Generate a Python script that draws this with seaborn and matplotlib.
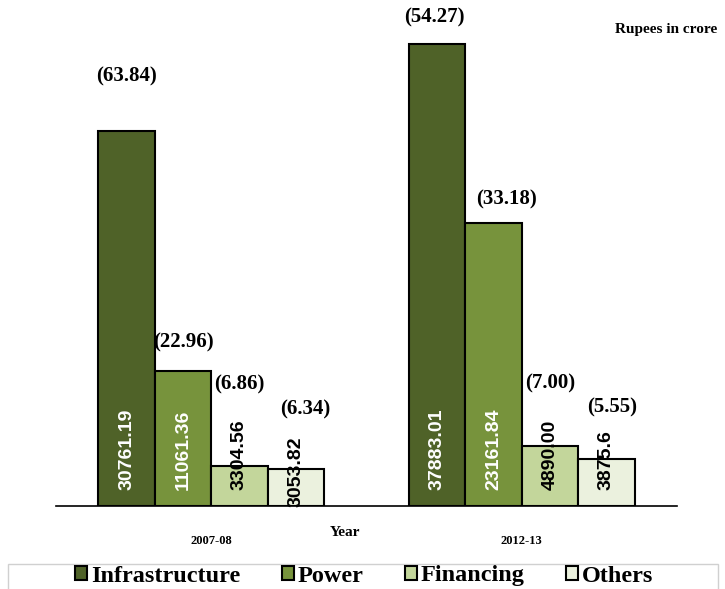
import pandas as pd
import seaborn as sns
import matplotlib.pyplot as plt
from matplotlib.patches import Rectangle

# Chart data
years = ['2007-08', '2012-13']
sectors = ['Infrastructure', 'Power', 'Financing', 'Others']
values_2007 = [30761.19, 11061.36, 3304.56, 3053.82]
values_2012 = [37883.01, 23161.84, 4890.00, 3875.6]
value_labels_2007 = ['30761.19', '11061.36', '3304.56', '3053.82']
value_labels_2012 = ['37883.01', '23161.84', '4890.00', '3875.6']
pct_2007 = ['(63.84)', '(22.96)', '(6.86)', '(6.34)']
pct_2012 = ['(54.27)', '(33.18)', '(7.00)', '(5.55)']

colors = ['#4F6228', '#77933C', '#C3D69B', '#EBF1DE']
value_text_colors = ['white', 'white', 'black', 'black']

# label offsets (pixels) relative to bar top, per sector [2007, 2012]
pct_dy = [[54, 26], [29, 24], [81, 63], [59, 51]]
pct_dx = [[0, -3], [0, 13], [0, 0], [9, 6]]

# Build long-form table
df = pd.DataFrame({
    'year': [years[0]] * 4 + [years[1]] * 4,
    'sector': sectors + sectors,
    'value': values_2007 + values_2012,
})

sns.set_style('white')
plt.rcParams['font.family'] = ['Liberation Serif', 'DejaVu Sans']
plt.rcParams['text.color'] = 'black'

fig = plt.figure(figsize=(7.25, 5.89), dpi=100)
ax = fig.add_axes([56 / 725, 83 / 589, 621 / 725, 488 / 589])

sns.barplot(data=df, x='year', y='value', hue='sector', order=years,
            hue_order=sectors, palette=colors, width=0.727,
            edgecolor='black', linewidth=1.5, saturation=1, legend=False, ax=ax)

ax.set_xlim(-0.5, 1.5)
ax.set_ylim(0, 40000)

# Labels on bars
for i, cont in enumerate(ax.containers):
    vlabels = [value_labels_2007[i], value_labels_2012[i]]
    plabels = [pct_2007[i], pct_2012[i]]
    for j, bar in enumerate(cont):
        cx = bar.get_x() + bar.get_width() / 2
        top = bar.get_height()
        base = -80 if (i == 3 and j == 0) else 1300
        ax.text(cx, base, vlabels[j], rotation=90, ha='center', va='bottom',
                color=value_text_colors[i], fontsize=14, fontweight='bold',
                family='Liberation Sans')
        ax.annotate(plabels[j], (cx, top), xytext=(pct_dx[i][j], pct_dy[i][j]),
                    textcoords='offset pixels', ha='center', va='center',
                    fontsize=15, fontweight='bold', color='black')

# Axis styling
for s in ['left', 'right', 'top']:
    ax.spines[s].set_visible(False)
ax.spines['bottom'].set_color('black')
ax.spines['bottom'].set_linewidth(1.2)
ax.set_yticks([])
ax.set_xticks([-0.5, 0, 0.5, 1, 1.5])
ax.set_xticklabels([])
ax.tick_params(axis='x', length=4, color='#BBBBBB', width=1, direction='out')
ax.set_xlabel('')
ax.set_ylabel('')

for k, yr in enumerate(years):
    ax.text(k, -35 / 0.012195, yr, ha='center', va='center',
            fontsize=9, fontweight='bold', color='black')
fig.text(345 / 725, 1 - 532 / 589, 'Year', ha='center', va='center',
         fontsize=11, fontweight='bold', color='black')
fig.text(717 / 725, 1 - 30 / 589, 'Rupees in crore', ha='right', va='center',
         fontsize=11, fontweight='bold', color='black')

# Legend with its own box
handles = [Rectangle((0, 0), 1, 1, facecolor=c, edgecolor='black', linewidth=1.5)
           for c in colors]
leg = fig.legend(handles, sectors, loc='center', bbox_to_anchor=(364 / 725, 13 / 589),
                 ncol=4, frameon=False, handlelength=0.5, handleheight=0.5,
                 handletextpad=0.15, columnspacing=1.7,
                 prop={'family': 'Liberation Serif', 'weight': 'bold', 'size': 17.5})
for t in leg.get_texts():
    t.set_color('black')
fig.patches.append(Rectangle((8 / 725, -0.01), 710 / 725, 31 / 589,
                             transform=fig.transFigure, fill=False,
                             edgecolor='#D0D0D0', linewidth=1))

plt.savefig('out.png', dpi=100)
